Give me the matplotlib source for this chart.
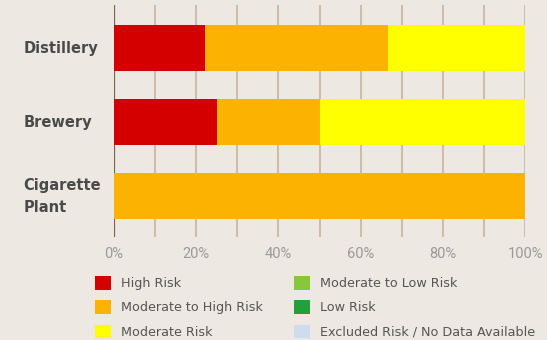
import numpy as np
import matplotlib
matplotlib.use("Agg")
import matplotlib.pyplot as plt
from matplotlib.patches import Patch

# data (share of sites in each risk class, %)
categories = ["Distillery", "Brewery", "Cigarette\nPlant"]
risk_levels = ["High Risk", "Moderate to High Risk", "Moderate Risk",
               "Moderate to Low Risk", "Low Risk", "Excluded Risk / No Data Available"]
high = [22.2, 25.0, 0.0]
mod_high = [44.4, 25.0, 100.0]
moderate = [33.4, 50.0, 0.0]
mod_low = [0.0, 0.0, 0.0]
low = [0.0, 0.0, 0.0]
excluded = [0.0, 0.0, 0.0]
x_ticks = [0, 20, 40, 60, 80, 100]

colors = ["#d40000", "#fbb200", "#ffff00", "#86c83a", "#22a03a", "#cfdcef"]
bg = "#ede8e1"

fig = plt.figure(figsize=(5.47, 3.40), dpi=100, facecolor=bg)
ax = fig.add_axes([0.2084, 0.303, 0.7516, 0.682])
ax.set_facecolor(bg)

series = [high, mod_high, moderate, mod_low, low, excluded]
y = np.arange(len(categories))
left = np.zeros(len(categories))
for vals, c in zip(series, colors):
    vals = np.array(vals)
    ax.barh(y, vals, left=left, height=0.62, color=c, zorder=3)
    left += vals

ax.set_xlim(0, 100)
ax.set_ylim(2.55, -0.58)

# grid lines every 10%
for gx in range(10, 101, 10):
    ax.axvline(gx, color="#c9b9a6", lw=1.3, zorder=1)
ax.axvline(0, color="#7c6444", lw=1.6, zorder=2)

for s in ax.spines.values():
    s.set_visible(False)

ax.set_xticks(x_ticks)
ax.set_xticklabels([f"{t}%" for t in x_ticks], color="#9a9a9a", fontsize=10.5,
                   family="Roboto")
ax.tick_params(axis="x", length=0, pad=7)

ax.set_yticks(y)
ax.set_yticklabels(categories, fontsize=10.5, fontweight="bold", color="#4a4a4a",
                   linespacing=1.6)
for lab in ax.get_yticklabels():
    lab.set_horizontalalignment("left")
    lab.set_verticalalignment("center")
ax.tick_params(axis="y", length=0, pad=65)

handles = [Patch(facecolor=c, edgecolor="none") for c in colors]
fig.legend(handles, risk_levels, ncol=2, loc="upper left",
           bbox_to_anchor=(0.1745, 0.188), frameon=False, fontsize=9.2,
           labelcolor="#555555", handlelength=1.25, handleheight=1.25,
           handletextpad=0.78, columnspacing=2.4, labelspacing=0.8,
           borderaxespad=0, borderpad=0)

fig.savefig("out.png", dpi=100, facecolor=bg)
